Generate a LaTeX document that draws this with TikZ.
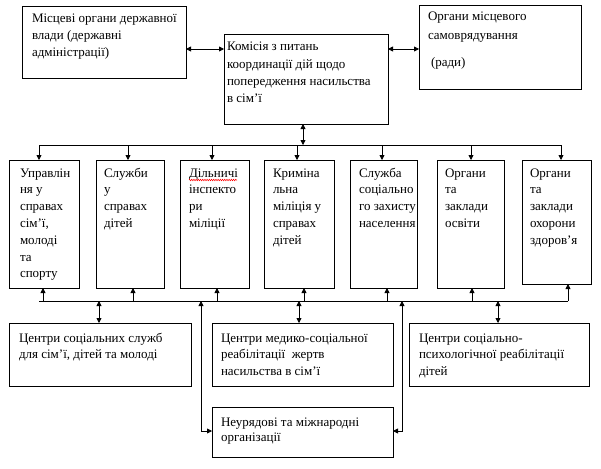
\documentclass[tikz,border=0pt]{standalone}
\usepackage{fontspec}
\setmainfont{Liberation Serif}
\usetikzlibrary{arrows.meta,decorations.pathmorphing}
\begin{document}
\begin{tikzpicture}[x=1pt,y=-1pt,
  box/.style={draw, line width=0.8pt, anchor=north west, inner sep=0pt, outer sep=0pt},
  txt/.style={anchor=base west, inner sep=0pt, outer sep=0pt},
  conn/.style={line width=0.8pt},
  tip/.tip={Triangle[length=5pt,width=5pt]},
  dbl/.style={conn,tip-tip},
  one/.style={conn,-tip}]
\fill[white] (0,0) rectangle (601,468);
\useasboundingbox (0,0) rectangle (601,468);
\newcommand{\tb}[2]{\parbox[t]{240pt}{\fontsize{13}{#1}\selectfont #2}}
% top boxes
\node[box, minimum width=164pt, minimum height=72pt] (A) at (22,6) {};
\node[box, minimum width=164pt, minimum height=90pt] (K) at (224,34) {};
\node[box, minimum width=162pt, minimum height=84pt] (B) at (419,5) {};
\node[txt] (tA) at (32,23) {\tb{17pt}{Місцеві органи державної\\влади (державні\\адміністрації)}};
\node[txt] (tK) at (227,51) {\tb{17.3pt}{Комісія з питань\\координації дій щодо\\попередження насильства\\в сім’ї}};
\node[txt] (tB) at (428,21) {\tb{19pt}{Органи місцевого\\самоврядування\\[8pt]\hspace*{3pt}(ради)}};
% row boxes
\node[box, minimum width=70pt, minimum height=128pt] (b1) at (9,160) {};
\node[box, minimum width=68pt, minimum height=128pt] (b2) at (96,160) {};
\node[box, minimum width=69pt, minimum height=128pt] (b3) at (180,160) {};
\node[box, minimum width=70pt, minimum height=128pt] (b4) at (264,160) {};
\node[box, minimum width=67pt, minimum height=128pt] (b5) at (350,160) {};
\node[box, minimum width=67pt, minimum height=128pt] (b6) at (437,160) {};
\node[box, minimum width=69pt, minimum height=124pt] (b7) at (522,160) {};
\node[txt] (t1) at (20,177) {\tb{16.8pt}{Управлін\\ня у\\справах\\сім’ї,\\молоді\\та\\спорту}};
\node[txt] (t2) at (104,177) {\tb{16.8pt}{Служби\\у\\справах\\дітей}};
\node[txt] (t3) at (189,177) {\tb{16.8pt}{Дільничі\\інспекто\\ри\\міліції}};
\node[txt] (t4) at (273,177) {\tb{16.8pt}{Криміна\\льна\\міліція у\\справах\\дітей}};
\node[txt] (t5) at (359,177) {\tb{16.8pt}{Служба\\соціально\\го захисту\\населення}};
\node[txt] (t6) at (445,177) {\tb{16.8pt}{Органи\\та\\заклади\\освіти}};
\node[txt] (t7) at (530,177) {\tb{16.8pt}{Органи\\та\\заклади\\охорони\\здоров’я}};
\draw[red, line width=0.5pt, decorate, decoration={zigzag, amplitude=0.8pt, segment length=2.2pt}] (189,180) -- (237,180);
% bottom boxes
\node[box, minimum width=182pt, minimum height=63pt] (C1) at (9,323) {};
\node[box, minimum width=181pt, minimum height=63pt] (C2) at (212,323) {};
\node[box, minimum width=180pt, minimum height=63pt] (C3) at (409,323) {};
\node[box, minimum width=181pt, minimum height=50pt] (N) at (212,407) {};
\node[txt] (tC1) at (19,342) {\tb{16.5pt}{Центри соціальних служб\\для сім’ї, дітей та молоді}};
\node[txt] (tC2) at (221,342) {\tb{16.5pt}{Центри медико-соціальної\\реабілітації\ \ жертв\\насильства в сім’ї}};
\node[txt] (tC3) at (419,342) {\tb{16.5pt}{Центри соціально-\\психологічної реабілітації\\дітей}};
\node[txt] (tN) at (221,426) {\tb{15pt}{Неурядові та міжнародні\\організації}};
% bus coordinates
\coordinate (yA) at (0,49);
\coordinate (tbL) at (39,145);
\coordinate (tbR) at (562,145);
\coordinate (bbL) at (39,301);
\coordinate (bbR) at (568,301);
\coordinate (yN) at (0,431);
\coordinate (xL) at (201,0);
\coordinate (xR) at (402,0);
% top connectors
\draw[dbl] (A.east |- yA) -- (K.west |- yA);
\draw[dbl] (K.east |- yA) -- (B.west |- yA);
\draw[dbl] ([xshift=-3pt]K.south) -- ([xshift=-3pt]K.south |- tbL);
\draw[conn] (tbL) -- (tbR);
\draw[one] ([xshift=-5pt]b1.north |- tbL) -- ([xshift=-5pt]b1.north);
\draw[one] ([xshift=-2pt]b2.north |- tbL) -- ([xshift=-2pt]b2.north);
\draw[one] ([xshift=-2.5pt]b3.north |- tbL) -- ([xshift=-2.5pt]b3.north);
\draw[one] ([xshift=-2pt]b4.north |- tbL) -- ([xshift=-2pt]b4.north);
\draw[one] ([xshift=-1.5pt]b5.north |- tbL) -- ([xshift=-1.5pt]b5.north);
\draw[one] ([xshift=0.5pt]b6.north |- tbL) -- ([xshift=0.5pt]b6.north);
\draw[one] ([xshift=4.5pt]b7.north |- tbL) -- ([xshift=4.5pt]b7.north);
% bottom bus
\draw[conn] (bbL) -- (bbR);
\draw[one] ([xshift=-1pt]b1.south |- bbL) -- ([xshift=-1pt]b1.south);
\draw[one] ([xshift=3pt]b2.south |- bbL) -- ([xshift=3pt]b2.south);
\draw[one] ([xshift=2.5pt]b3.south |- bbL) -- ([xshift=2.5pt]b3.south);
\draw[one] ([xshift=5pt]b4.south |- bbL) -- ([xshift=5pt]b4.south);
\draw[one] ([xshift=3.5pt]b5.south |- bbL) -- ([xshift=3.5pt]b5.south);
\draw[one] ([xshift=1.5pt]b6.south |- bbL) -- ([xshift=1.5pt]b6.south);
\draw[one] ([xshift=11.5pt]b7.south |- bbL) -- ([xshift=11.5pt]b7.south);
\draw[dbl] ([xshift=-1pt]C1.north |- bbL) -- ([xshift=-1pt]C1.north);
\draw[dbl] ([xshift=-3.5pt]C2.north |- bbL) -- ([xshift=-3.5pt]C2.north);
\draw[dbl] ([xshift=-1pt]C3.north |- bbL) -- ([xshift=-1pt]C3.north);
\draw[dbl] (xL |- bbL) -- (xL |- yN) -- (N.west |- yN);
\draw[dbl] (xR |- bbL) -- (xR |- yN) -- (N.east |- yN);
\end{tikzpicture}
\end{document}
